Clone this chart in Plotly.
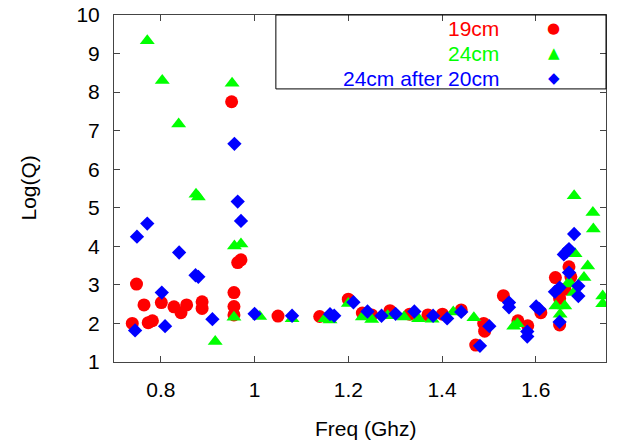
import plotly.graph_objects as go

# 19cm (red circles)
x_19 = [0.739, 0.748, 0.764, 0.773, 0.782, 0.801, 0.828, 0.843, 0.855, 0.888, 0.888,
        0.951, 0.956, 0.956, 0.956, 0.964, 0.971, 1.050, 1.139, 1.200, 1.230, 1.250,
        1.289, 1.331, 1.370, 1.401, 1.441, 1.472, 1.489, 1.491, 1.531, 1.562, 1.583,
        1.611, 1.642, 1.651, 1.651, 1.662, 1.671, 1.675]
y_19 = [2.00, 3.02, 2.48, 2.02, 2.07, 2.54, 2.43, 2.28, 2.48, 2.56, 2.39,
        7.75, 2.80, 2.44, 2.22, 3.58, 3.65, 2.19, 2.18, 2.63, 2.27, 2.22,
        2.33, 2.24, 2.22, 2.24, 2.35, 1.44, 2.00, 1.80, 2.72, 2.07, 1.94,
        2.28, 3.19, 2.65, 1.96, 2.89, 3.47, 3.21]

# 24cm (green triangles)
x_24 = [0.771, 0.803, 0.838, 0.875, 0.880, 0.916, 0.952, 0.956, 0.957, 0.971, 1.011,
        1.080, 1.150, 1.161, 1.200, 1.230, 1.250, 1.284, 1.319, 1.350, 1.379, 1.424,
        1.468, 1.553, 1.561, 1.643, 1.652, 1.662, 1.669, 1.675, 1.681, 1.682, 1.684,
        1.703, 1.711, 1.722, 1.723, 1.743, 1.743]
y_24 = [9.33, 8.30, 7.17, 5.35, 5.28, 1.53, 8.23, 2.16, 4.01, 4.06, 2.18,
        2.12, 2.12, 2.09, 2.52, 2.17, 2.10, 2.20, 2.17, 2.12, 2.11, 2.30,
        2.15, 1.93, 1.99, 2.45, 2.24, 2.45, 3.04, 3.02, 2.80, 5.31, 3.81,
        3.19, 3.49, 4.88, 4.45, 2.71, 2.51]

# 24cm after 20cm (blue diamonds)
x_24a = [0.745, 0.749, 0.771, 0.802, 0.809, 0.839, 0.874, 0.880, 0.910, 0.957, 0.964,
         0.971, 1.000, 1.080, 1.161, 1.170, 1.211, 1.241, 1.271, 1.301, 1.341, 1.381,
         1.411, 1.441, 1.481, 1.501, 1.543, 1.543, 1.582, 1.582, 1.601, 1.608, 1.641,
         1.651, 1.651, 1.660, 1.666, 1.671, 1.671, 1.682, 1.691, 1.691]
y_24a = [1.82, 4.25, 4.59, 2.80, 1.93, 3.84, 3.25, 3.21, 2.11, 6.66, 5.16,
         4.66, 2.25, 2.20, 2.24, 2.20, 2.55, 2.31, 2.20, 2.25, 2.31, 2.20,
         2.13, 2.30, 1.42, 1.93, 2.54, 2.42, 1.79, 1.66, 2.44, 2.37, 2.82,
         2.93, 2.04, 3.79, 3.86, 3.93, 3.32, 4.32, 2.97, 2.71]

series_names = ["19cm", "24cm", "24cm after 20cm"]
series_colors = ["#ff0000", "#00ff00", "#0000ff"]
series_symbols = ["circle", "triangle-up", "diamond"]
legend_glyphs = ["\u25cf", "\u25b2", "\u25c6"]
x_ticks = [0.8, 1.0, 1.2, 1.4, 1.6]
x_tick_text = ["0.8", "1", "1.2", "1.4", "1.6"]
y_ticks = [1, 2, 3, 4, 5, 6, 7, 8, 9, 10]

FONT = "Liberation Sans, Arial, sans-serif"
FS = 21

W, H = 618, 443
ML, MR, MT, MB = 114, 12, 15, 81
PW, PH = W - ML - MR, H - MT - MB

fig = go.Figure()
sizes = [13, 13, 11]
for xs, ys, name, col, sym, sz in zip([x_19, x_24, x_24a], [y_19, y_24, y_24a],
                                       series_names, series_colors, series_symbols, sizes):
    fig.add_trace(go.Scatter(x=xs, y=ys, mode="markers", name=name,
                             marker=dict(color=col, symbol=sym, size=sz, line=dict(width=0)),
                             showlegend=False))

axis_common = dict(showgrid=False, zeroline=False, showline=True, linecolor="#444",
                   linewidth=1, mirror="allticks", ticks="inside", ticklen=6,
                   tickcolor="#444", automargin=False, ticklabelstandoff=9,
                   ticklabeloverflow="allow",
                   tickfont=dict(family=FONT, size=FS, color="#000"))

fig.update_xaxes(range=[0.7, 1.75], tickvals=x_ticks, ticktext=x_tick_text, **axis_common)
fig.update_yaxes(range=[1, 10], tickvals=y_ticks, **axis_common)

# axis titles
fig.add_annotation(xref="paper", yref="paper", x=(366 - ML) / PW, y=-(428 - MT - PH) / PH,
                   text="Freq (Ghz)", showarrow=False, xanchor="center", yanchor="middle",
                   font=dict(family=FONT, size=FS, color="#000"))
fig.add_annotation(xref="paper", yref="paper", x=-(ML - 28) / PW, y=0.5,
                   text="Log(Q)", showarrow=False, textangle=-90,
                   xanchor="center", yanchor="middle",
                   font=dict(family=FONT, size=FS, color="#000"))

# legend box and entries (text right-aligned, glyph at right, gnuplot style)
fig.add_shape(type="rect", xref="paper", yref="paper", x0=0.329, x1=1.0, y0=0.787, y1=1.0,
              line=dict(color="#000", width=1), fillcolor="rgba(0,0,0,0)")
legend_y = [0.9625, 0.890, 0.818]
for name, col, glyph, ly in zip(series_names, series_colors, legend_glyphs, legend_y):
    fig.add_annotation(xref="paper", yref="paper", x=0.787, y=ly, text=name, showarrow=False,
                       xanchor="right", yanchor="middle",
                       font=dict(family=FONT, size=FS, color=col))
    fig.add_annotation(xref="paper", yref="paper", x=0.894, y=ly, text=glyph, showarrow=False,
                       xanchor="center", yanchor="middle",
                       font=dict(family="DejaVu Sans", size=15, color=col))

fig.update_layout(width=W, height=H, margin=dict(l=ML, r=MR, t=MT, b=MB),
                  plot_bgcolor="white", paper_bgcolor="white",
                  font=dict(family=FONT, size=FS, color="#000"))

fig.write_html("out.html", config={"displayModeBar": False},
               post_script="document.body.style.margin='0';")
